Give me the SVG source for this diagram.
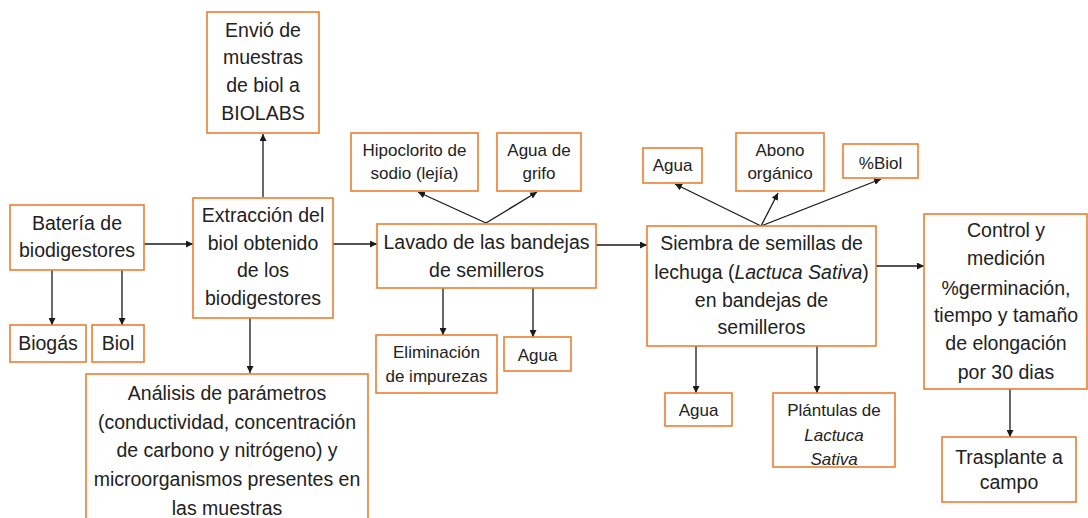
<svg xmlns="http://www.w3.org/2000/svg" width="1088" height="518" viewBox="0 0 1088 518">
<defs>
<marker id="ah" viewBox="0 0 10 10" refX="10" refY="5" markerWidth="7" markerHeight="7" markerUnits="userSpaceOnUse" orient="auto">
<path d="M0,0 L10,5 L0,10 z" fill="#1a1a1a"/>
</marker>
<style>
.b{fill:#fff;stroke:#ED7D31;stroke-width:1.6}
.t{font-family:"Liberation Sans",Arial,sans-serif;font-size:19.5px;fill:#222;text-anchor:middle}
.s{font-family:"Liberation Sans",Arial,sans-serif;font-size:17px;fill:#222;text-anchor:middle}
.c{stroke:#1a1a1a;stroke-width:1.3;fill:none;marker-end:url(#ah)}
</style>
</defs>
<rect width="1088" height="518" fill="#fff"/>
<g id="connectors">
<line class="c" x1="263" y1="197" x2="263" y2="134"/>
<line class="c" x1="144" y1="244" x2="193" y2="244"/>
<line class="c" x1="52" y1="270" x2="52" y2="325"/>
<line class="c" x1="122" y1="270" x2="122" y2="325"/>
<line class="c" x1="250" y1="318" x2="250" y2="373"/>
<line class="c" x1="333" y1="244" x2="377" y2="244"/>
<line class="c" x1="486" y1="223" x2="418" y2="192"/>
<line class="c" x1="486" y1="223" x2="537" y2="192"/>
<line class="c" x1="443" y1="288" x2="443" y2="335"/>
<line class="c" x1="533" y1="288" x2="533" y2="337"/>
<line class="c" x1="596" y1="245" x2="647" y2="245"/>
<line class="c" x1="761" y1="226" x2="675" y2="184"/>
<line class="c" x1="761" y1="226" x2="778" y2="193"/>
<line class="c" x1="761" y1="226" x2="881" y2="179"/>
<line class="c" x1="696" y1="346" x2="696" y2="393"/>
<line class="c" x1="817" y1="346" x2="817" y2="393"/>
<line class="c" x1="876" y1="266" x2="924" y2="266"/>
<line class="c" x1="1010" y1="389" x2="1010" y2="437"/>
</g>
<g id="envio">
<rect class="b" x="207" y="12" width="112" height="121"/>
<text class="t"><tspan x="263" y="37">Envió de</tspan><tspan x="263" y="64">muestras</tspan><tspan x="263" y="92">de biol a</tspan><tspan x="263" y="120">BIOLABS</tspan></text>
</g>
<g id="bateria">
<rect class="b" x="10" y="205" width="134" height="65"/>
<text class="t"><tspan x="77" y="230">Batería de</tspan><tspan x="77" y="257">biodigestores</tspan></text>
</g>
<g id="extraccion">
<rect class="b" x="193" y="198" width="140" height="120"/>
<text class="t"><tspan x="263" y="222">Extracción del</tspan><tspan x="263" y="250">biol obtenido</tspan><tspan x="263" y="277">de los</tspan><tspan x="263" y="305">biodigestores</tspan></text>
</g>
<g id="biogas">
<rect class="b" x="10" y="325" width="76" height="37"/>
<text class="t" x="48" y="350">Biogás</text>
</g>
<g id="biol">
<rect class="b" x="92" y="325" width="52" height="37"/>
<text class="t" x="118" y="350">Biol</text>
</g>
<g id="analisis">
<rect class="b" x="86" y="374" width="282" height="150"/>
<text class="t"><tspan x="227" y="400">Análisis de parámetros</tspan><tspan x="227" y="429">(conductividad, concentración</tspan><tspan x="227" y="457">de carbono y nitrógeno) y</tspan><tspan x="227" y="486">microorganismos presentes en</tspan><tspan x="227" y="515">las muestras</tspan></text>
</g>
<g id="hipoclorito">
<rect class="b" x="351" y="133" width="127" height="58"/>
<text class="s"><tspan x="414.5" y="156">Hipoclorito de</tspan><tspan x="414.5" y="179">sodio (lejía)</tspan></text>
</g>
<g id="aguagrifo">
<rect class="b" x="497" y="133" width="84" height="58"/>
<text class="s"><tspan x="539" y="156">Agua de</tspan><tspan x="539" y="179">grifo</tspan></text>
</g>
<g id="lavado">
<rect class="b" x="377" y="224" width="219" height="64"/>
<text class="t"><tspan x="486.5" y="249">Lavado de las bandejas</tspan><tspan x="486.5" y="277">de semilleros</tspan></text>
</g>
<g id="eliminacion">
<rect class="b" x="376" y="335" width="121" height="58"/>
<text class="s"><tspan x="436.5" y="358">Eliminación</tspan><tspan x="436.5" y="382">de impurezas</tspan></text>
</g>
<g id="agua1">
<rect class="b" x="504" y="337" width="67" height="34"/>
<text class="s" x="537.5" y="361">Agua</text>
</g>
<g id="agua2">
<rect class="b" x="643" y="148" width="59" height="35"/>
<text class="s" x="672.5" y="171">Agua</text>
</g>
<g id="abono">
<rect class="b" x="736" y="133" width="88" height="58"/>
<text class="s"><tspan x="780" y="156">Abono</tspan><tspan x="780" y="179">orgánico</tspan></text>
</g>
<g id="pbiol">
<rect class="b" x="843" y="144" width="75" height="34"/>
<text class="s" x="880.5" y="169">%Biol</text>
</g>
<g id="siembra">
<rect class="b" x="647" y="226" width="229" height="120"/>
<text class="t"><tspan x="761.5" y="250">Siembra de semillas de</tspan><tspan x="761.5" y="279">lechuga (<tspan font-style="italic">Lactuca Sativa</tspan>)</tspan><tspan x="761.5" y="307">en bandejas de</tspan><tspan x="761.5" y="334">semilleros</tspan></text>
</g>
<g id="agua3">
<rect class="b" x="665" y="393" width="67" height="33"/>
<text class="s" x="698.5" y="416">Agua</text>
</g>
<g id="plantulas">
<rect class="b" x="773" y="393" width="122" height="74"/>
<text class="s"><tspan x="834" y="416">Plántulas de</tspan><tspan x="834" y="441" font-style="italic">Lactuca</tspan><tspan x="834" y="465" font-style="italic">Sativa</tspan></text>
</g>
<g id="control">
<rect class="b" x="924" y="214" width="163" height="175"/>
<text class="t"><tspan x="1006" y="237">Control y</tspan><tspan x="1006" y="265">medición</tspan><tspan x="1006" y="295">%germinación,</tspan><tspan x="1006" y="322">tiempo y tamaño</tspan><tspan x="1006" y="350">de elongación</tspan><tspan x="1006" y="379">por 30 dias</tspan></text>
</g>
<g id="trasplante">
<rect class="b" x="942" y="437" width="134" height="65"/>
<text class="t"><tspan x="1009" y="464">Trasplante a</tspan><tspan x="1009" y="489">campo</tspan></text>
</g>
</svg>
